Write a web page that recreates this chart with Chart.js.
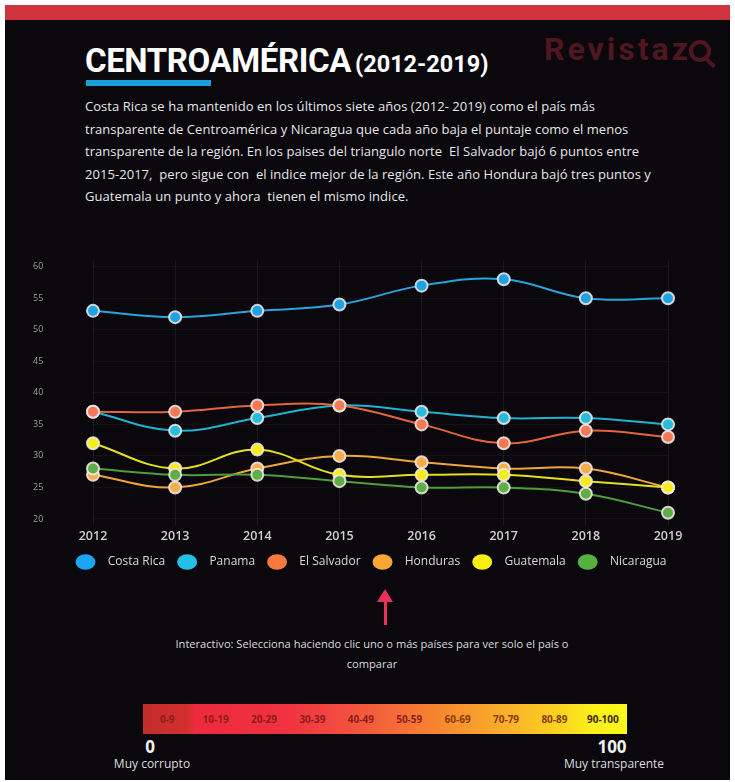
<!DOCTYPE html>
<html>
<head>
<meta charset="utf-8">
<script src="https://cdn.jsdelivr.net/npm/chart.js@4"></script>
<style>
  body { margin: 0; background: #fff; width: 735px; height: 782px; overflow: hidden; font-family: "Open Sans", sans-serif; }
  #panel { position: absolute; left: 5px; top: 5px; width: 725px; height: 775px; background: #0a070d; }
  #redbar { position: absolute; left: 5px; top: 5px; width: 725px; height: 15px; background: #d0323e; }
  #title { position: absolute; left: 85px; top: 41px; color: #fff; font-family: Roboto, sans-serif; font-weight: 700; white-space: nowrap; }
  #title .big { font-size: 33px; letter-spacing: -0.4px; }
  #title .small { font-size: 23.5px; }
  #underline { position: absolute; left: 86px; top: 80px; width: 125px; height: 6px; background: #1a9fd8; }
  #logo { position: absolute; left: 544px; top: 30px; color: #501620; font-family: Roboto, sans-serif; font-weight: 700; font-size: 32px; letter-spacing: 3px; }
  #lens { position: absolute; left: 689px; top: 40px; width: 14px; height: 14px; border: 4px solid #501620; border-radius: 50%; }
  #handle { position: absolute; left: 705px; top: 61px; width: 11px; height: 4px; background: #501620; transform: rotate(45deg); }
  #intro { position: absolute; left: 85px; top: 95px; color: #e6e6e6; font-size: 13px; letter-spacing: 0.05px; line-height: 22.6px; white-space: nowrap; }
  #wrap { position: absolute; left: 0; top: 250px; width: 735px; height: 340px; }
  #arrow-shaft { position: absolute; left: 384px; top: 600px; width: 3px; height: 25px; background: #e8305a; }
  #arrow-head { position: absolute; left: 377px; top: 589px; width: 0; height: 0; border-left: 8.5px solid transparent; border-right: 8.5px solid transparent; border-bottom: 13px solid #e8305a; }
  #hint { position: absolute; left: 92px; top: 634px; width: 560px; text-align: center; color: #dcdcdc; font-size: 11.1px; line-height: 20px; }
  #scale { position: absolute; left: 143px; top: 704px; width: 484px; height: 30px; display: flex;
           background: linear-gradient(to right, #c22c2c 0%, #d2302f 9%, #ee2a3e 11%, #f0323f 30%, #f24a40 40%, #f56a38 52%, #f78a2f 62%, #fab02a 75%, #fbd022 85%, #fbf01a 93%, #fbf81c 100%); }
  #scale span { flex: 1; text-align: center; line-height: 30px; font-size: 10px; font-weight: 700; color: #8e1c1c; }
  .lbl { position: absolute; color: #f0f0f0; text-align: center; white-space: nowrap; }
  .num { font-size: 17px; font-weight: 700; }
  .cap { font-size: 12px; color: #dddddd; }
</style>
</head>
<body>
<div id="panel"></div>
<div id="redbar"></div>
<div id="title"><span class="big">CENTROAMÉRICA</span> <span class="small">(2012-2019)</span></div>
<div id="underline"></div>
<div id="logo">Revistaz</div>
<div id="lens"></div>
<div id="handle"></div>
<div id="intro">
Costa Rica se ha mantenido en los últimos siete años (2012- 2019) como el país más<br>
transparente de Centroamérica y Nicaragua que cada año baja el puntaje como el menos<br>
transparente de la región. En los paises del triangulo norte&nbsp; El Salvador bajó 6 puntos entre<br>
2015-2017,&nbsp; pero sigue con&nbsp; el indice mejor de la región. Este año Hondura bajó tres puntos y<br>
Guatemala un punto y ahora&nbsp; tienen el mismo indice.
</div>
<div id="wrap"><canvas id="cpiChart"></canvas></div>
<div id="arrow-head"></div>
<div id="arrow-shaft"></div>
<div id="hint">Interactivo: Selecciona haciendo clic uno o más países para ver solo el país o<br>comparar</div>
<div id="scale"></div>
<div class="lbl num" style="left:135px; top:735px; width:30px;">0</div>
<div class="lbl cap" style="left:102px; top:755px; width:100px;">Muy corrupto</div>
<div class="lbl num" style="left:592px; top:735px; width:40px;">100</div>
<div class="lbl cap" style="left:554px; top:755px; width:120px;">Muy transparente</div>
<script>
// CPI score per country, 2012-2019
const years = ['2012', '2013', '2014', '2015', '2016', '2017', '2018', '2019'];
const countries = ['Costa Rica', 'Panama', 'El Salvador', 'Honduras', 'Guatemala', 'Nicaragua'];
const costaRica = [53, 52, 53, 54, 57, 58, 55, 55];
const panama = [37, 34, 36, 38, 37, 36, 36, 35];
const elSalvador = [37, 37, 38, 38, 35, 32, 34, 33];
const honduras = [27, 25, 28, 30, 29, 28, 28, 25];
const guatemala = [32, 28, 31, 27, 27, 27, 26, 25];
const nicaragua = [28, 27, 27, 26, 25, 25, 24, 21];
const yTicks = [20, 25, 30, 35, 40, 45, 50, 55, 60];
const scaleLabels = ['0-9', '10-19', '20-29', '30-39', '40-49', '50-59', '60-69', '70-79', '80-89', '90-100'];

const lineColors = ['#2aa3dc', '#1fb3d2', '#e2653c', '#efa53a', '#e6df1e', '#4f9e3e'];
const dotColors = ['#1ea2e2', '#27bcdc', '#f07a55', '#f3ad4a', '#f5ec1a', '#5fae45'];
const legendColors = ['#1aa5f0', '#22c0e6', '#f57a3c', '#f7a832', '#f8ee10', '#56b040'];
const seriesValues = [costaRica, panama, elSalvador, honduras, guatemala, nicaragua];

// colour scale strip
const scaleBox = document.getElementById('scale');
scaleLabels.forEach((t, i) => {
    const s = document.createElement('span');
    s.textContent = t;
    if (i >= 6) s.style.color = '#8a3a08';
    if (i === 9) s.style.color = '#3a2a00';
    scaleBox.appendChild(s);
});

const ctx = document.getElementById('cpiChart').getContext('2d');
const cpiChart = new Chart(ctx, {
    type: 'line',
    data: {
        labels: years,
        datasets: countries.map((name, i) => ({
            label: name,
            data: seriesValues[i],
            yAxisID: 'y',
            order: countries.length - 1 - i,
            borderColor: lineColors[i],
            backgroundColor: dotColors[i],
            borderWidth: 2,
            tension: 0.4,
            pointRadius: 6,
            pointBorderWidth: 2,
            pointBackgroundColor: dotColors[i],
            pointBorderColor: 'rgba(245,235,235,0.85)'
        }))
    },
    options: {
        responsive: true,
        maintainAspectRatio: false,
        animation: false,
        layout: { padding: { top: 10.4, bottom: 12, left: 33, right: 26 } },
        plugins: {
            tooltip: { enabled: false },
            legend: {
                position: 'bottom',
                labels: {
                    usePointStyle: true,
                    pointStyleWidth: 20,
                    boxHeight: 11,
                    padding: 12,
                    color: '#d8d8d8',
                    font: { family: 'Open Sans', size: 12 },
                    generateLabels: (chart) => {
                        const items = Chart.defaults.plugins.legend.labels.generateLabels(chart);
                        items.sort((a, b) => a.datasetIndex - b.datasetIndex);
                        return items.map(it => Object.assign(it, {
                            text: '  ' + countries[it.datasetIndex],
                            fillStyle: legendColors[it.datasetIndex],
                            strokeStyle: 'transparent',
                            lineWidth: 0,
                            pointStyle: 'circle',
                            fontColor: '#d8d8d8'
                        }));
                    }
                }
            }
        },
        scales: {
            x: {
                grid: { color: 'rgba(255,255,255,0.07)', drawTicks: false },
                border: { display: false },
                ticks: { color: '#d0d0d0', padding: 4, font: { family: 'Open Sans', size: 12.5, weight: 600 } },
                afterFit: (s) => { s.height = 18.7; }
            },
            y: {
                position: 'left',
                min: 19,
                max: 61,
                grid: { color: 'rgba(255,255,255,0.04)', drawTicks: false },
                border: { display: false },
                ticks: { color: '#9a9a9a', padding: 0, crossAlign: 'far', font: { family: 'Open Sans', size: 9 } },
                afterBuildTicks: (s) => { s.ticks = yTicks.map(v => ({ value: v })); },
                afterFit: (s) => { s.width = 60; }
            },
            y2: {
                position: 'right',
                grid: { display: false, drawTicks: false },
                border: { display: false },
                ticks: { display: false },
                afterFit: (s) => { s.width = 41; }
            }
        }
    }
});
</script>
</body>
</html>
